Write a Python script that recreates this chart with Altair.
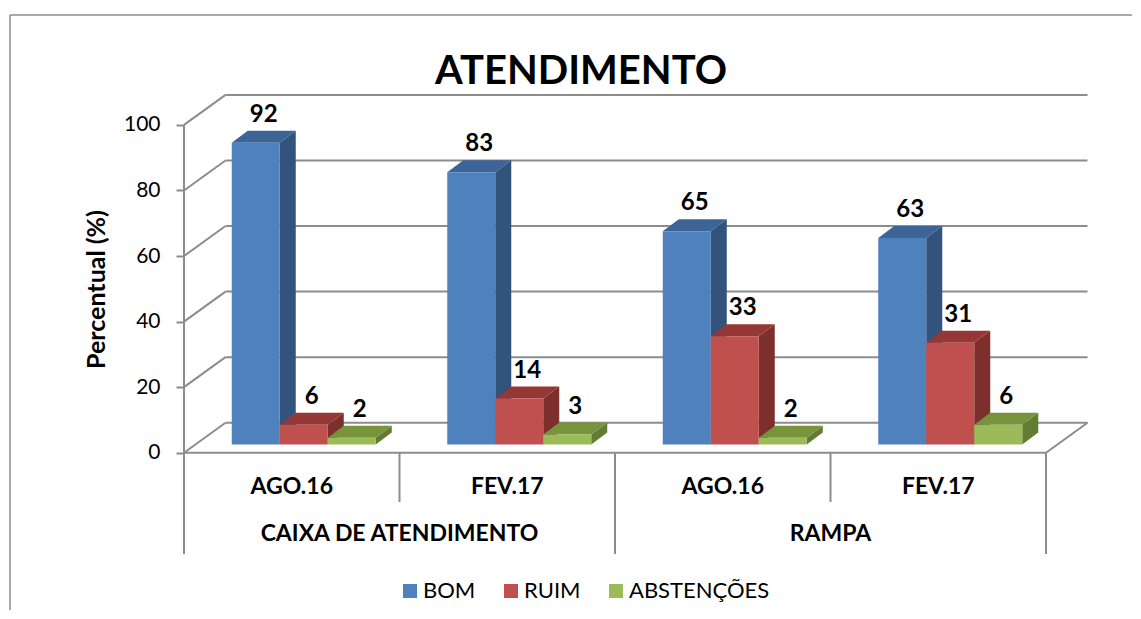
import altair as alt
import pandas as pd

# ---------------- data ----------------
categories = ["AGO.16", "FEV.17", "AGO.16", "FEV.17"]
groups = ["CAIXA DE ATENDIMENTO", "RAMPA"]
series = ["BOM", "RUIM", "ABSTENÇÕES"]
bom = [92, 83, 65, 63]
ruim = [6, 14, 33, 31]
abstencoes = [2, 3, 2, 6]
y_ticks = [0, 20, 40, 60, 80, 100]
chart_title = "ATENDIMENTO"
y_title = "Percentual (%)"

front_colors = ["#4F81BD", "#C0504D", "#9BBB59"]
top_colors = ["#3C6497", "#943735", "#77933C"]
side_colors = ["#31537C", "#7D2F2D", "#637C33"]

values = [bom, ruim, abstencoes]

# ---------------- layout (pixels) ----------------
W, H = 1122, 595          # plot area = whole framed chart
AX_X, AX_Y = 174, 437.7   # front axis origin inside the plot
KX, KY = 215.5, 3.278     # px per category, px per percent
WX, WY = 41.5 / KX, 30 / KY       # back-wall depth offset
BX, BY = 12 / KX, 8.3 / KY        # bar plane offset
BW = 48 / KX                      # bar width
DX, DY = 16 / KX, 12 / KY         # bar depth
LONG = (AX_Y - 539) / KY
SHORT = (AX_Y - 487) / KY
CAT_Y = (AX_Y - 472) / KY
GRP_Y = (AX_Y - 519) / KY
LBL_GAP = 16 / KY
TITLE_X = (571 - AX_X) / KX
TITLE_Y = (AX_Y - 69) / KY

XMIN = -AX_X / KX
XMAX = (W - AX_X) / KX
xdom = [XMIN, XMAX]
ydom = [(AX_Y - H) / KY, AX_Y / KY]
ncat = len(categories)

xs = alt.Scale(domain=xdom, nice=False, zero=False)
ys = alt.Scale(domain=ydom, nice=False, zero=False)
yax = alt.Axis(values=y_ticks, offset=-AX_X, domain=False, grid=False,
               tickSize=8, tickColor="#8C8C8C", tickWidth=2,
               labelFont="Lato", labelFontSize=21, labelColor="#000000",
               labelPadding=16, title=y_title, titleFont="Lato",
               titleFontSize=25, titleFontWeight="bold", titleColor="#000000",
               titleX=-88, titleY=274, titleAngle=270,
               titleAlign="center", titleBaseline="middle")


def X(f):
    return alt.X(f"{f}:Q", scale=xs, axis=None)


def Y(f):
    return alt.Y(f"{f}:Q", scale=ys, axis=yax)


# ---------------- tables ----------------
fronts, sides, tops, labels = [], [], [], []
for c in range(ncat):
    for s, name in enumerate(series):
        v = values[s][c]
        x0 = c + 0.5 - 1.5 * BW + s * BW + BX
        x1 = x0 + BW
        h = BY + v
        bid = f"{c}-{s}"
        fronts.append(dict(serie=name, x=x0, x2=x1, y=BY, y2=h))
        sides.append(dict(id=bid, col=side_colors[s], x=x1, y=BY, y2=h))
        sides.append(dict(id=bid, col=side_colors[s], x=x1 + DX, y=BY + DY, y2=h + DY))
        tops.append(dict(id=bid, col=top_colors[s], x=x0, y=h, y2=h))
        tops.append(dict(id=bid, col=top_colors[s], x=x0 + DX, y=h, y2=h + DY))
        tops.append(dict(id=bid, col=top_colors[s], x=x1, y=h, y2=h + DY))
        tops.append(dict(id=bid, col=top_colors[s], x=x1 + DX, y=h + DY, y2=h + DY))
        labels.append(dict(x=(x0 + x1) / 2 + DX / 2, y=h + DY + LBL_GAP, t=str(v)))

rules = []
for v in y_ticks:
    rules.append(dict(x=WX, x2=ncat + WX, y=v + WY, y2=v + WY))
    rules.append(dict(x=0, x2=WX, y=v, y2=v + WY))
rules.append(dict(x=0, x2=ncat, y=0, y2=0))
rules.append(dict(x=ncat, x2=ncat + WX, y=0, y2=WY))
rules.append(dict(x=0, x2=0, y=LONG, y2=y_ticks[-1]))
for c in range(1, ncat + 1):
    rules.append(dict(x=c, x2=c, y=LONG if c % 2 == 0 else SHORT, y2=0))

border = [dict(x=XMIN, x2=XMIN, y=ydom[0], y2=ydom[1]),
          dict(x=XMIN, x2=XMAX, y=ydom[1], y2=ydom[1])]

cat_df = pd.DataFrame(dict(x=[c + 0.5 for c in range(ncat)], y=[CAT_Y] * ncat, t=categories))
grp_df = pd.DataFrame(dict(x=[2 * g + 1 for g in range(len(groups))], y=[GRP_Y] * len(groups), t=groups))
title_df = pd.DataFrame(dict(x=[TITLE_X], y=[TITLE_Y], t=[chart_title]))

# ---------------- layers ----------------
border_l = alt.Chart(pd.DataFrame(border)).mark_rule(color="#8C8C8C", strokeWidth=1.5).encode(
    x=X("x"), x2="x2:Q", y=Y("y"), y2="y2:Q")

grid_l = alt.Chart(pd.DataFrame(rules)).mark_rule(color="#8C8C8C", strokeWidth=2).encode(
    x=X("x"), x2="x2:Q", y=Y("y"), y2="y2:Q")

side_l = alt.Chart(pd.DataFrame(sides)).mark_area(orient="vertical", opacity=1).encode(
    x=X("x"), y=Y("y"), y2="y2:Q",
    color=alt.Color("col:N", scale=None), detail="id:N")

top_l = alt.Chart(pd.DataFrame(tops)).mark_area(orient="vertical", opacity=1).encode(
    x=X("x"), y=Y("y"), y2="y2:Q",
    color=alt.Color("col:N", scale=None), detail="id:N")

front_l = alt.Chart(pd.DataFrame(fronts)).mark_rect(opacity=1).encode(
    x=X("x"), x2="x2:Q", y=Y("y"), y2="y2:Q",
    color=alt.Color("serie:N",
                    scale=alt.Scale(domain=series, range=front_colors),
                    sort=series,
                    legend=alt.Legend(orient="none", legendX=389, legendY=565,
                                      direction="horizontal", title=None,
                                      symbolType="square", symbolSize=196,
                                      symbolStrokeWidth=0, labelFont="Lato",
                                      labelFontSize=22, labelColor="#000000",
                                      labelOffset=2, columnPadding=24)))

label_l = alt.Chart(pd.DataFrame(labels)).mark_text(
    font="Lato", fontSize=24, fontWeight="bold", color="#000000", baseline="middle").encode(
    x=X("x"), y=Y("y"), text="t:N")

cat_l = alt.Chart(cat_df).mark_text(
    font="Lato", fontSize=23, fontWeight="bold", color="#000000", baseline="middle").encode(
    x=X("x"), y=Y("y"), text="t:N")

grp_l = alt.Chart(grp_df).mark_text(
    font="Lato", fontSize=23, fontWeight="bold", color="#000000", baseline="middle").encode(
    x=X("x"), y=Y("y"), text="t:N")

title_l = alt.Chart(title_df).mark_text(
    font="Lato", fontSize=40, fontWeight="bold", color="#000000", baseline="alphabetic").encode(
    x=X("x"), y=Y("y"), text="t:N")

chart = alt.layer(border_l, grid_l, side_l, top_l, front_l, label_l, cat_l, grp_l, title_l).properties(
    width=W, height=H,
    padding={"left": 1, "top": 6, "right": 0, "bottom": 0},
).configure_view(stroke="transparent")

chart.save("out.html", embed_options={"renderer": "svg", "actions": False})
